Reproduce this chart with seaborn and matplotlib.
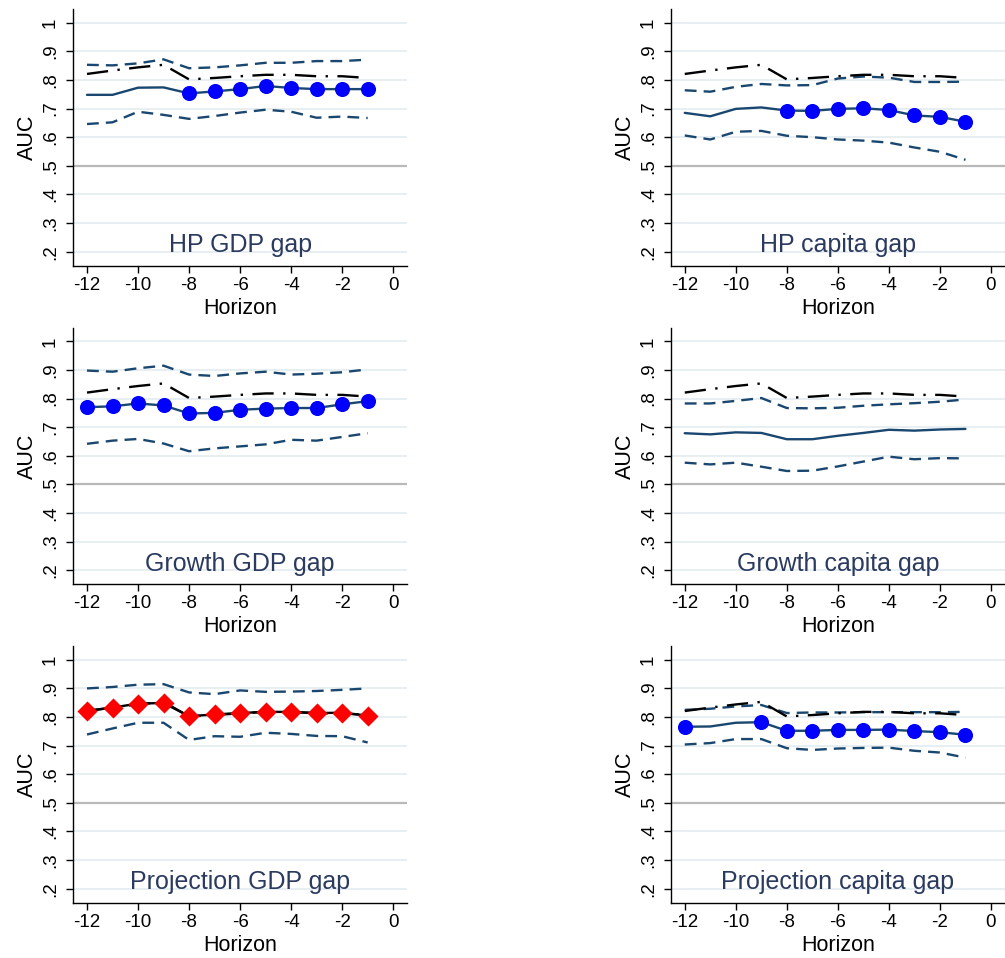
import numpy as np
import pandas as pd
import matplotlib
matplotlib.use("Agg")
import matplotlib.pyplot as plt
import seaborn as sns

# ---------------- data ----------------
horizon = [-12, -11, -10, -9, -8, -7, -6, -5, -4, -3, -2, -1]

titles = ["HP GDP gap", "HP capita gap", "Growth GDP gap",
          "Growth capita gap", "Projection GDP gap", "Projection capita gap"]

benchmark = [0.821, 0.833, 0.844, 0.853, 0.802, 0.807, 0.813, 0.818, 0.818, 0.813, 0.813, 0.807]

hp_gdp_auc = [0.748, 0.748, 0.773, 0.774, 0.753, 0.760, 0.768, 0.779, 0.772, 0.768, 0.768, 0.768]
hp_gdp_hi = [0.853, 0.851, 0.858, 0.872, 0.841, 0.844, 0.851, 0.860, 0.860, 0.866, 0.866, 0.871]
hp_gdp_lo = [0.646, 0.652, 0.689, 0.678, 0.664, 0.674, 0.686, 0.696, 0.689, 0.668, 0.672, 0.667]
hp_gdp_sig = [0, 0, 0, 0, 1, 1, 1, 1, 1, 1, 1, 1]

hp_cap_auc = [0.685, 0.673, 0.699, 0.704, 0.693, 0.692, 0.699, 0.701, 0.695, 0.676, 0.671, 0.654]
hp_cap_hi = [0.764, 0.759, 0.776, 0.786, 0.781, 0.782, 0.805, 0.812, 0.808, 0.793, 0.793, 0.794]
hp_cap_lo = [0.606, 0.592, 0.619, 0.622, 0.605, 0.600, 0.592, 0.588, 0.581, 0.564, 0.549, 0.521]
hp_cap_sig = [0, 0, 0, 0, 1, 1, 1, 1, 1, 1, 1, 1]

gr_gdp_auc = [0.770, 0.773, 0.783, 0.776, 0.748, 0.750, 0.761, 0.765, 0.767, 0.767, 0.780, 0.791]
gr_gdp_hi = [0.898, 0.894, 0.906, 0.915, 0.884, 0.879, 0.888, 0.894, 0.884, 0.887, 0.892, 0.902]
gr_gdp_lo = [0.642, 0.653, 0.659, 0.643, 0.616, 0.626, 0.633, 0.640, 0.656, 0.653, 0.666, 0.679]
gr_gdp_sig = [1, 1, 1, 1, 1, 1, 1, 1, 1, 1, 1, 1]

gr_cap_auc = [0.679, 0.675, 0.682, 0.680, 0.658, 0.658, 0.670, 0.680, 0.691, 0.688, 0.692, 0.694]
gr_cap_hi = [0.783, 0.783, 0.792, 0.802, 0.767, 0.766, 0.768, 0.775, 0.780, 0.784, 0.789, 0.797]
gr_cap_lo = [0.576, 0.570, 0.576, 0.562, 0.547, 0.548, 0.563, 0.580, 0.597, 0.588, 0.592, 0.591]
gr_cap_sig = [0, 0, 0, 0, 0, 0, 0, 0, 0, 0, 0, 0]

pr_gdp_auc = [0.822, 0.833, 0.847, 0.849, 0.803, 0.809, 0.814, 0.818, 0.818, 0.814, 0.815, 0.805]
pr_gdp_hi = [0.900, 0.905, 0.913, 0.915, 0.886, 0.880, 0.893, 0.888, 0.889, 0.891, 0.895, 0.900]
pr_gdp_lo = [0.739, 0.760, 0.780, 0.780, 0.720, 0.733, 0.731, 0.745, 0.741, 0.734, 0.733, 0.711]
pr_gdp_sig = [1, 1, 1, 1, 1, 1, 1, 1, 1, 1, 1, 1]

pr_cap_auc = [0.766, 0.767, 0.780, 0.782, 0.752, 0.752, 0.755, 0.755, 0.756, 0.751, 0.747, 0.738]
pr_cap_hi = [0.825, 0.829, 0.837, 0.842, 0.814, 0.816, 0.816, 0.817, 0.817, 0.817, 0.817, 0.818]
pr_cap_lo = [0.704, 0.709, 0.723, 0.723, 0.691, 0.685, 0.690, 0.692, 0.693, 0.682, 0.676, 0.658]
pr_cap_sig = [1, 0, 0, 1, 1, 1, 1, 1, 1, 1, 1, 1]

y_ticks = [0.2, 0.3, 0.4, 0.5, 0.6, 0.7, 0.8, 0.9, 1.0]
y_tick_labels = [".2", ".3", ".4", ".5", ".6", ".7", ".8", ".9", "1"]
x_ticks = [-12, -10, -8, -6, -4, -2, 0]
x_tick_labels = ["-12", "-10", "-8", "-6", "-4", "-2", "0"]

panels = [
    (hp_gdp_auc, hp_gdp_hi, hp_gdp_lo, hp_gdp_sig, "o"),
    (hp_cap_auc, hp_cap_hi, hp_cap_lo, hp_cap_sig, "o"),
    (gr_gdp_auc, gr_gdp_hi, gr_gdp_lo, gr_gdp_sig, "o"),
    (gr_cap_auc, gr_cap_hi, gr_cap_lo, gr_cap_sig, "o"),
    (pr_gdp_auc, pr_gdp_hi, pr_gdp_lo, pr_gdp_sig, "D"),
    (pr_cap_auc, pr_cap_hi, pr_cap_lo, pr_cap_sig, "o"),
]

# ---------------- style ----------------
sns.set_style("white")
plt.rcParams["font.family"] = ["Liberation Sans", "DejaVu Sans"]

NAVY = "#1a476f"
GRID = "#e6eef1"
TITLE_C = "#2b3a5f"

fig = plt.figure(figsize=(10.05, 9.58), dpi=100)

col_x = [0.0726, 0.6674]
col_w = 0.3326
row_y = [0.7227, 0.3901, 0.0577]
row_h = 0.2676

for i, (auc, hi, lo, sig, mk) in enumerate(panels):
    r, c = divmod(i, 2)
    ax = fig.add_axes([col_x[c], row_y[r], col_w, row_h])

    # grid
    for yv in y_ticks:
        if abs(yv - 0.5) < 1e-9:
            ax.axhline(yv, color="#b9b9b9", lw=1.6, zorder=0)
        else:
            ax.axhline(yv, color=GRID, lw=1.3, zorder=0)

    df = pd.DataFrame({"h": horizon, "auc": auc, "hi": hi, "lo": lo,
                       "bench": benchmark, "sig": sig})

    sns.lineplot(data=df, x="h", y="hi", ax=ax, color=NAVY, lw=1.7,
                 linestyle=(0, (5, 3)), zorder=2)
    sns.lineplot(data=df, x="h", y="lo", ax=ax, color=NAVY, lw=1.7,
                 linestyle=(0, (5, 3)), zorder=2)
    mean_color = "black" if mk == "D" else NAVY
    sns.lineplot(data=df, x="h", y="auc", ax=ax, color=mean_color, lw=1.7, zorder=3)
    sns.lineplot(data=df, x="h", y="bench", ax=ax, color="black", lw=1.7,
                 linestyle=(0, (9, 4, 1, 4)), zorder=3)

    sdf = df[df["sig"] == 1]
    if len(sdf):
        if mk == "D":
            sns.scatterplot(data=sdf, x="h", y="auc", ax=ax, marker="D", s=105,
                            color="#ff0000", edgecolor="#ff0000", linewidth=0, zorder=4)
        else:
            sns.scatterplot(data=sdf, x="h", y="auc", ax=ax, marker="o", s=118,
                            color="#0000ff", edgecolor="#0000ff", linewidth=0, zorder=4)

    ax.set_xlim(-12.55, 0.55)
    ax.set_ylim(0.151, 1.047)
    ax.set_yticks(y_ticks)
    ax.set_yticklabels(y_tick_labels, rotation=90, va="center")
    ax.set_xticks(x_ticks)
    ax.set_xticklabels(x_tick_labels)
    ax.tick_params(axis="both", labelsize=13.5, length=5, width=1, color="black",
                   labelcolor="black", direction="out", left=True, bottom=True)
    ax.tick_params(axis="y", pad=5)
    ax.tick_params(axis="x", pad=3)

    for s in ["top", "right"]:
        ax.spines[s].set_visible(False)
    for s in ["left", "bottom"]:
        ax.spines[s].set_color("black")
        ax.spines[s].set_linewidth(1.0)

    ax.set_ylabel("AUC", fontsize=15.5, color="black")
    ax.yaxis.set_label_coords(-0.105, 0.5)
    ax.set_xlabel("Horizon", fontsize=15.5, color="black")
    ax.xaxis.set_label_coords(0.5, -0.125)

    ax.text(0.5, 0.081, titles[i], transform=ax.transAxes, ha="center",
            va="center", fontsize=18, color=TITLE_C)

fig.savefig("out.png", dpi=100)
